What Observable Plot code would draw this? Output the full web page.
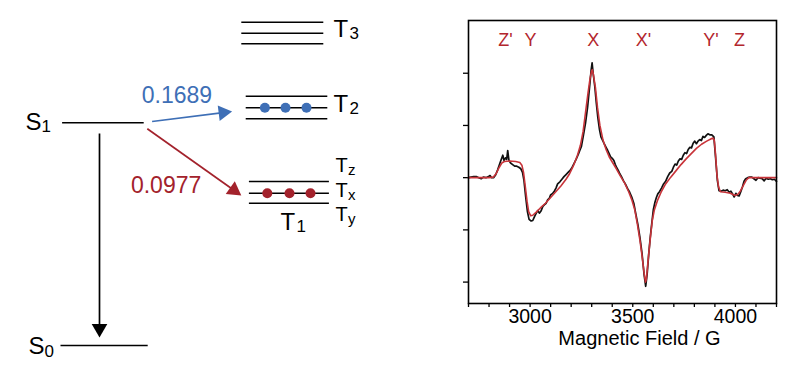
<!DOCTYPE html>
<html><head><meta charset="utf-8">
<script src="https://cdn.jsdelivr.net/npm/d3@7"></script>
<script src="https://cdn.jsdelivr.net/npm/@observablehq/plot@0.6"></script>
<style>
body{margin:0;background:#fff;}
#wrap{position:relative;width:800px;height:366px;overflow:hidden;font-family:"Liberation Sans",Arial,sans-serif;background:#fff;}
#left{position:absolute;left:0;top:0;}
#right{position:absolute;left:460px;top:0;}
</style></head><body><div id="wrap"><div id="left"></div><div id="right"></div></div>
<script>
// ---------- Left: energy-level diagram ----------
const levelName   = ["S0","S1","Tz","Tx","Ty","T2a","T2b","T2c","T3a","T3b","T3c"];
const levelEnergy = [0, 2.227, 1.64, 1.523, 1.423, 2.493, 2.377, 2.267, 3.233, 3.123, 3.017];
const levelFrom   = [1.5, 1.54, 6.21, 6.21, 6.21, 6.13, 6.13, 6.13, 6.02, 6.02, 6.02];
const levelTo     = [3.68, 3.58, 8.21, 8.21, 8.21, 8.17, 8.17, 8.17, 8.07, 8.07, 8.07];

const popX      = [6.61, 7.125, 7.65, 6.67, 7.225, 7.75];
const popEnergy = [2.377, 2.377, 2.377, 1.523, 1.523, 1.523];
const popColor  = ["#3e6fb6","#3e6fb6","#3e6fb6","#a3222c","#a3222c","#a3222c"];

const arrowFromX = [3.79, 3.67, 2.475];
const arrowFromE = [2.24, 2.167, 2.12];
const arrowToX   = [5.79, 6.02, 2.475];
const arrowToE   = [2.34, 1.50, 0.08];
const arrowColor = ["#3e6fb6", "#a3222c", "#000000"];

const rateText  = ["0.1689", "0.0977"];
const rateX     = [4.41, 4.14];
const rateE     = [2.50, 1.60];
const rateColor = ["#3e6fb6", "#a3222c"];

const labelMain = ["S","S","T","T","T","T","T","T"];
const labelSub  = ["1","0","3","2","z","x","y","1"];
const labelX    = [0.625, 0.7, 8.325, 8.325, 8.375, 8.375, 8.375, 7.0];
const labelE    = [2.235, -0.01, 3.165, 2.415, 1.80, 1.55, 1.305, 1.235];
const labelBig  = [true, true, true, true, false, false, false, true];

const xDom = [0, 11.5], eDom = [-0.21, 3.45];
const xs = d3.scaleLinear(xDom, [0, 460]);
const ys = d3.scaleLinear(eDom, [366, 0]);

const levels = levelName.map((n, i) => ({name: n, e: levelEnergy[i], x1: levelFrom[i], x2: levelTo[i]}));
const pops = popX.map((x, i) => ({x, e: popEnergy[i], c: popColor[i]}));
const arrows = arrowFromX.map((x0, i) => {
  const p0 = [xs(x0), ys(arrowFromE[i])], p1 = [xs(arrowToX[i]), ys(arrowToE[i])];
  const dx = p1[0] - p0[0], dy = p1[1] - p0[1], L = Math.hypot(dx, dy);
  const ux = dx / L, uy = dy / L, back = 9;
  const c = [p1[0] - back * ux, p1[1] - back * uy];
  return {x1: x0, y1: arrowFromE[i], x2: xs.invert(c[0]), y2: ys.invert(c[1]),
          angle: Math.atan2(uy, ux) * 180 / Math.PI + 90, c: arrowColor[i]};
});
const rates = rateText.map((t, i) => ({t, x: rateX[i], e: rateE[i], c: rateColor[i]}));
const labels = labelMain.map((m, i) => ({m, s: labelSub[i], x: labelX[i], e: labelE[i], big: labelBig[i]}));
const bigL = labels.filter(d => d.big), smallL = labels.filter(d => !d.big);

const font = "'Liberation Sans', Arial, sans-serif";
const left = Plot.plot({
  width: 460, height: 366, margin: 0,
  style: {fontFamily: font, background: "transparent"},
  x: {domain: xDom, axis: null},
  y: {domain: eDom, axis: null},
  color: {type: "identity"},
  marks: [
    Plot.link(levels, {x1: "x1", x2: "x2", y1: "e", y2: "e", stroke: "#000", strokeWidth: 1.5}),
    Plot.dot(pops, {x: "x", y: "e", r: 5, fill: "c", stroke: null}),
    Plot.link(arrows, {x1: "x1", y1: "y1", x2: "x2", y2: "y2", stroke: "c", strokeWidth: 1.7}),
    Plot.dot(arrows, {x: "x2", y: "y2", symbol: "triangle", r: 5.8, fill: "c", stroke: null, rotate: "angle"}),
    Plot.text(rates, {x: "x", y: "e", text: "t", fill: "c", fontSize: 23}),
    Plot.text(bigL, {x: "x", y: "e", text: "m", textAnchor: "start", fontSize: 24, fill: "#000"}),
    Plot.text(bigL, {x: "x", y: "e", text: "s", textAnchor: "start", fontSize: 17, dx: 16, dy: 5, fill: "#000"}),
    Plot.text(smallL, {x: "x", y: "e", text: "m", textAnchor: "start", fontSize: 20, fill: "#000"}),
    Plot.text(smallL, {x: "x", y: "e", text: "s", textAnchor: "start", fontSize: 15, dx: 12.5, dy: 4.5, fill: "#000"})
  ]
});
document.getElementById("left").appendChild(left);

// ---------- Right: EPR spectrum ----------
const fitField = [2700,2800,2820,2835,2850,2862,2875,2900,2930,2950,2960,2968,2976,2985,2993,3003,3013,3030,3050,3075,3100,3125,3150,3175,3190,3210,3230,3245,3258,3270,3282,3292,3300,3303,3308,3318,3328,3340,3355,3370,3385,3400,3420,3440,3460,3480,3495,3510,3522,3535,3546,3555,3562,3566,3572,3578,3587,3595,3605,3620,3640,3660,3685,3710,3735,3760,3785,3810,3835,3860,3880,3890,3897,3903,3910,3918,3927,3950,3975,3998,4012,4025,4040,4052,4065,4200];
const fitValue = [0,0,0.01,0.08,0.2,0.28,0.31,0.32,0.31,0.29,0.24,0.1,-0.15,-0.45,-0.65,-0.73,-0.72,-0.66,-0.58,-0.49,-0.38,-0.27,-0.16,-0.03,0.06,0.22,0.42,0.62,0.88,1.25,1.62,1.9,2.05,2.07,1.98,1.73,1.35,1.0,0.72,0.54,0.40,0.30,0.17,0.03,-0.1,-0.27,-0.42,-0.62,-0.88,-1.2,-1.52,-1.82,-2.0,-1.95,-1.7,-1.45,-1.1,-0.82,-0.62,-0.44,-0.26,-0.12,0.01,0.13,0.25,0.36,0.46,0.56,0.64,0.70,0.74,0.76,0.72,0.45,0.05,-0.18,-0.27,-0.28,-0.30,-0.34,-0.32,-0.25,-0.14,-0.05,0,0];

const expField = [2700,2712,2725,2738,2750,2762,2772,2785,2797,2805,2812,2822,2832,2842,2855,2867,2873,2880,2886,2891,2897,2905,2915,2925,2935,2945,2955,2963,2970,2978,2987,2995,3005,3013,3021,3030,3037,3045,3053,3062,3069,3078,3086,3093,3100,3110,3118,3126,3134,3145,3155,3165,3175,3185,3195,3205,3215,3225,3235,3242,3250,3260,3270,3280,3290,3297,3302,3307,3315,3322,3330,3338,3345,3355,3362,3370,3378,3385,3392,3400,3408,3415,3422,3428,3435,3445,3455,3465,3475,3485,3495,3505,3515,3525,3535,3545,3555,3563,3570,3578,3585,3592,3600,3608,3615,3622,3630,3640,3650,3660,3670,3680,3690,3698,3706,3714,3722,3730,3738,3746,3754,3762,3770,3778,3786,3794,3802,3810,3818,3826,3834,3842,3850,3858,3866,3875,3885,3895,3903,3912,3920,3930,3940,3950,3960,3970,3978,3986,3994,4002,4010,4018,4026,4034,4042,4050,4060,4070,4080,4090,4100,4110,4120,4130,4140,4150,4160,4170,4180,4190,4200];
const expValue = [0.0,0.01,0.02,0.02,0.0,-0.02,0.01,0.0,0.02,0.04,0.0,0.0,0.05,0.15,0.3,0.43,0.33,0.38,0.35,0.52,0.33,0.28,0.25,0.22,0.22,0.20,0.17,0.10,-0.05,-0.35,-0.65,-0.8,-0.83,-0.82,-0.75,-0.68,-0.63,-0.68,-0.64,-0.55,-0.52,-0.49,-0.42,-0.40,-0.33,-0.30,-0.26,-0.20,-0.12,-0.08,-0.03,0.02,0.06,0.10,0.14,0.20,0.28,0.36,0.45,0.52,0.60,0.82,1.05,1.35,1.75,2.05,2.2,2.0,1.75,1.45,1.15,0.92,0.78,0.70,0.64,0.58,0.52,0.46,0.40,0.37,0.33,0.25,0.19,0.15,0.09,0.02,-0.06,-0.13,-0.21,-0.28,-0.37,-0.49,-0.70,-0.90,-1.15,-1.45,-1.85,-2.08,-1.85,-1.45,-1.15,-0.9,-0.62,-0.47,-0.38,-0.31,-0.27,-0.20,-0.12,-0.07,0.02,0.09,0.12,0.20,0.26,0.24,0.32,0.36,0.35,0.43,0.48,0.46,0.54,0.58,0.57,0.66,0.70,0.65,0.70,0.73,0.71,0.79,0.77,0.81,0.84,0.82,0.82,0.78,0.40,-0.05,-0.25,-0.26,-0.24,-0.25,-0.23,-0.28,-0.26,-0.31,-0.37,-0.30,-0.34,-0.35,-0.27,-0.18,-0.07,-0.02,0.0,0.01,0.01,-0.02,-0.05,0.0,-0.01,-0.02,-0.06,-0.01,-0.03,-0.02,-0.04,-0.03,-0.07];

const xTicks = d3.range(2700, 4201, 100);
const xTickLabels = [3000, 3500, 4000];
const yTicks = [-2, -1, 0, 1, 2];
const peakLabel = ["Z'", "Y", "X", "X'", "Y'", "Z"];
const peakField = [2880, 3002, 3307, 3552, 3881, 4020];

const fit = fitField.map((f, i) => ({field: f, value: fitValue[i]}));
const exp = expField.map((f, i) => ({field: f, value: expValue[i]}));
const peaks = peakLabel.map((t, i) => ({t, field: peakField[i]}));

const right = Plot.plot({
  width: 340, height: 366,
  marginLeft: 8, marginRight: 24, marginTop: 20, marginBottom: 63,
  style: {fontFamily: font, background: "transparent", color: "#000"},
  x: {domain: [2700, 4200]},
  y: {domain: [-2.41, 3.01]},
  marks: [
    Plot.axisX({ticks: xTicks, tickFormat: () => "", tickSize: 4, label: null, strokeWidth: 1.3}),
    Plot.axisY({ticks: yTicks, tickFormat: () => "", tickSize: 5, label: null, strokeWidth: 1.3}),
    Plot.text(xTickLabels, {x: d => d, text: d => String(d), frameAnchor: "bottom", dy: 19, fontSize: 19.5, fill: "#000"}),
    Plot.line(exp, {x: "field", y: "value", stroke: "#111", strokeWidth: 1.7}),
    Plot.line(fit, {x: "field", y: "value", stroke: "#c8343a", strokeWidth: 1.6}),
    Plot.frame({stroke: "#000", strokeWidth: 1.6}),
    Plot.text(peaks, {x: "field", text: "t", frameAnchor: "top", dy: 13, fontSize: 18, fill: "#b3262d"}),
    Plot.text(["Magnetic Field / G"], {frameAnchor: "bottom", dy: 41, dx: 17, fontSize: 20, fill: "#000"})
  ]
});
document.getElementById("right").appendChild(right);
</script></body></html>
